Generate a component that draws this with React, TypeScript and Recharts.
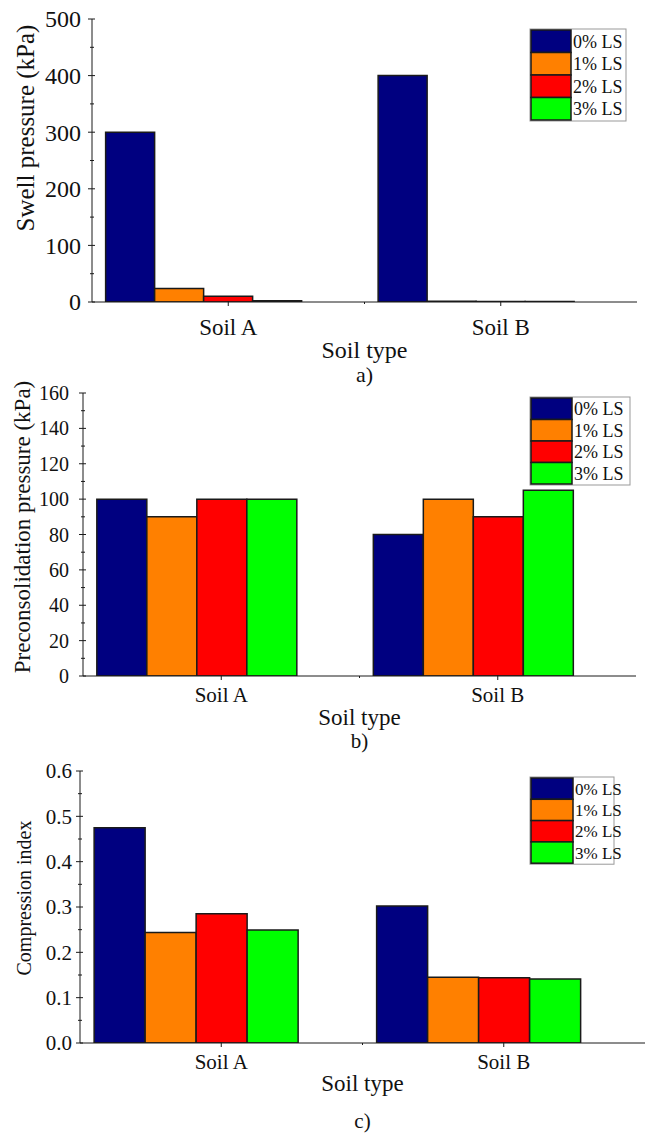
import React from 'react';
import { BarChart, Bar, XAxis, YAxis } from 'recharts';

const soils = ['Soil A', 'Soil B'];
const limeLabels = ['0% LS', '1% LS', '2% LS', '3% LS'];
const limeColors = ['#000080', '#FF8000', '#FF0000', '#00FF00'];

// one row per lime content, one column per soil
const swellPressure = [[300, 400], [24, 1.5], [10, 1], [2, 0.8]];
const preconPressure = [[100, 80], [90, 100], [100, 90], [100, 105]];
const compressionIndex = [[0.475, 0.302], [0.244, 0.145], [0.285, 0.144], [0.249, 0.141]];

const swellTicks = [0, 50, 100, 150, 200, 250, 300, 350, 400, 450, 500];
const preconTicks = [0, 10, 20, 30, 40, 50, 60, 70, 80, 90, 100, 110, 120, 130, 140, 150, 160];
const ccTicks = [0, 0.05, 0.1, 0.15, 0.2, 0.25, 0.3, 0.35, 0.4, 0.45, 0.5, 0.55, 0.6];

const FONT = '"Liberation Serif", "Times New Roman", Times, serif';
const INK = '#1a1a1a';
const KEYS = ['ls0', 'ls1', 'ls2', 'ls3'];

function toRows(values: number[][]) {
  return soils.map((soil, i) => {
    const row: Record<string, string | number> = { soil };
    values.forEach((series, k) => {
      row[KEYS[k]] = series[i];
    });
    return row;
  });
}

type PanelProps = {
  top: number;
  height: number;
  plotTop: number;
  plotBottom: number;
  plotLeft: number;
  marginRight: number;
  rightFrame: boolean;
  values: number[][];
  ticks: number[];
  minorStep: number;
  fmt: (v: number) => string;
  tickFont: number;
  labelRight: number;
  xFont: number;
  xLabelY: number;
  xTitleY: number;
  xTitleFont: number;
  yTitle: string;
  yTitleX: number;
  yTitleY: number;
  yTitleFont: number;
  caption: string;
  captionY: number;
  captionFont: number;
  legend: { x: number; y: number; w: number; row: number; swatch: number; font: number };
};

function Panel(p: PanelProps) {
  const rows = toRows(p.values);
  const domain = [p.ticks[0], p.ticks[p.ticks.length - 1]];
  const plotRight = 645 - p.marginRight;
  const band = (plotRight - p.plotLeft) / soils.length;
  const midX = (p.plotLeft + plotRight) / 2;
  const txt = { fontFamily: FONT };

  const yTick = (props: any) => {
    const { x, y, payload } = props;
    const major = Math.round(payload.value / p.minorStep) % 2 === 0;
    return (
      <g>
        <line x1={x - (major ? 4 : 2)} x2={x + (major ? 3 : 2)} y1={y} y2={y} stroke={INK} />
        {major && (
          <text x={p.labelRight} y={y} dy="0.35em" textAnchor="end" fontSize={p.tickFont} style={txt} fill="#111">
            {p.fmt(payload.value)}
          </text>
        )}
      </g>
    );
  };

  const xTick = (props: any) => {
    const { x, y, payload, index } = props;
    return (
      <g>
        <line x1={x} x2={x} y1={y - 1} y2={y + 4} stroke={INK} />
        {index < soils.length - 1 && (
          <line x1={x + band / 2} x2={x + band / 2} y1={y} y2={y + 2} stroke={INK} />
        )}
        <text x={x} y={p.xLabelY} textAnchor="middle" fontSize={p.xFont} style={txt} fill="#111">
          {payload.value}
        </text>
      </g>
    );
  };

  const lg = p.legend;

  return (
    <div style={{ position: 'absolute', left: 0, top: p.top, width: 645, height: p.height }}>
      <BarChart
        width={645}
        height={p.height}
        data={rows}
        margin={{ top: p.plotTop, right: p.marginRight, bottom: 0, left: 0 }}
        barCategoryGap="5%"
        barGap={0}
      >
        <XAxis
          xAxisId="cat"
          dataKey="soil"
          type="category"
          height={p.height - p.plotBottom}
          tickLine={false}
          tickSize={0}
          tickMargin={0}
          tick={xTick}
          interval={0}
          axisLine={{ stroke: INK }}
        />
        <XAxis xAxisId="top" dataKey="soil" orientation="top" height={0} tick={false} tickLine={false} axisLine={{ stroke: INK }} />
        <YAxis
          yAxisId="val"
          type="number"
          domain={domain}
          ticks={p.ticks}
          width={p.plotLeft}
          tickLine={false}
          tickSize={0}
          tickMargin={0}
          tick={yTick}
          interval={0}
          allowDataOverflow
          axisLine={{ stroke: INK }}
        />
        {p.rightFrame && (
          <YAxis yAxisId="frame" orientation="right" width={0} domain={domain} tick={false} tickLine={false} axisLine={{ stroke: INK }} />
        )}
        {KEYS.map((k, i) => (
          <Bar
            key={k}
            xAxisId="cat"
            yAxisId="val"
            dataKey={k}
            fill={limeColors[i]}
            stroke={INK}
            strokeWidth={1.5}
            isAnimationActive={false}
          />
        ))}
        {/* empty fifth slot keeps each group left of its tick */}
        <Bar xAxisId="cat" yAxisId="val" dataKey="spare" fill="none" stroke="none" isAnimationActive={false} />
      </BarChart>

      <svg
        width={645}
        height={p.height}
        style={{ position: 'absolute', left: 0, top: 0, pointerEvents: 'none', overflow: 'visible' }}
      >
        <text
          transform={`translate(${p.yTitleX}, ${p.yTitleY}) rotate(-90)`}
          textAnchor="middle"
          dy="0.35em"
          fontSize={p.yTitleFont}
          style={txt}
          fill="#111"
        >
          {p.yTitle}
        </text>
        <text x={midX} y={p.xTitleY} textAnchor="middle" fontSize={p.xTitleFont} style={txt} fill="#111">
          Soil type
        </text>
        <text x={midX} y={p.captionY} textAnchor="middle" fontSize={p.captionFont} style={txt} fill="#111">
          {p.caption}
        </text>

        <rect x={lg.x} y={lg.y} width={lg.w} height={lg.row * limeLabels.length + 2} fill="#fff" stroke="#999" />
        {limeLabels.map((label, i) => (
          <g key={label}>
            <rect
              x={lg.x + 1}
              y={lg.y + 1 + i * lg.row}
              width={lg.swatch}
              height={lg.row}
              fill={limeColors[i]}
              stroke={INK}
              strokeWidth={1.5}
            />
            <text
              x={lg.x + lg.swatch + 3}
              y={lg.y + 1 + (i + 0.5) * lg.row}
              dy="0.35em"
              fontSize={lg.font}
              style={txt}
              fill="#111"
            >
              {label}
            </text>
          </g>
        ))}
      </svg>
    </div>
  );
}

export default function App() {
  return (
    <div
      style={{
        position: 'absolute',
        left: 0,
        top: 0,
        width: 645,
        height: 1134,
        background: '#fff',
        overflow: 'hidden',
        fontFamily: FONT,
      }}
    >
      <Panel
        top={0}
        height={380}
        plotTop={19}
        plotBottom={302}
        plotLeft={92}
        marginRight={8}
        rightFrame
        values={swellPressure}
        ticks={swellTicks}
        minorStep={50}
        fmt={(v) => String(v)}
        tickFont={24}
        labelRight={81}
        xFont={23}
        xLabelY={335}
        xTitleY={358}
        xTitleFont={24}
        yTitle="Swell pressure (kPa)"
        yTitleX={25}
        yTitleY={128}
        yTitleFont={25}
        caption="a)"
        captionY={382}
        captionFont={22}
        legend={{ x: 530, y: 29, w: 96, row: 22.5, swatch: 40, font: 18 }}
      />
      <Panel
        top={380}
        height={380}
        plotTop={13}
        plotBottom={296}
        plotLeft={83}
        marginRight={9}
        rightFrame
        values={preconPressure}
        ticks={preconTicks}
        minorStep={10}
        fmt={(v) => String(v)}
        tickFont={20}
        labelRight={69}
        xFont={21}
        xLabelY={322}
        xTitleY={345}
        xTitleFont={23}
        yTitle="Preconsolidation pressure (kPa)"
        yTitleX={22}
        yTitleY={147}
        yTitleFont={23}
        caption="b)"
        captionY={368}
        captionFont={21}
        legend={{ x: 530, y: 17, w: 100, row: 21.5, swatch: 41, font: 18 }}
      />
      <Panel
        top={760}
        height={374}
        plotTop={11}
        plotBottom={283}
        plotLeft={80}
        marginRight={0}
        rightFrame={false}
        values={compressionIndex}
        ticks={ccTicks}
        minorStep={0.05}
        fmt={(v) => v.toFixed(1)}
        tickFont={21}
        labelRight={72}
        xFont={21}
        xLabelY={309}
        xTitleY={331}
        xTitleFont={23}
        yTitle="Compression index"
        yTitleX={24}
        yTitleY={138}
        yTitleFont={20}
        caption="c)"
        captionY={368}
        captionFont={21}
        legend={{ x: 530, y: 17, w: 84, row: 21.3, swatch: 42, font: 17 }}
      />
    </div>
  );
}
